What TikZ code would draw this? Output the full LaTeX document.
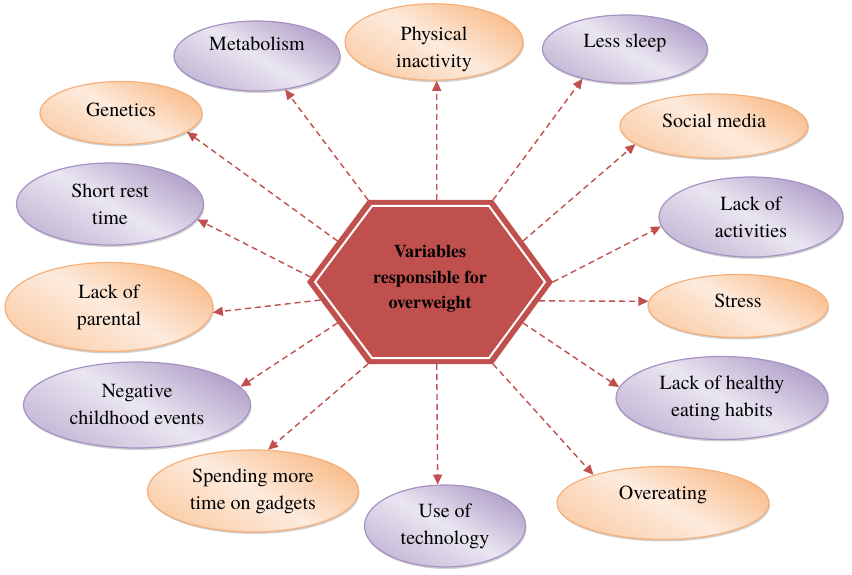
\documentclass[tikz,border=0pt]{standalone}
\usepackage{fontspec}
\setmainfont{TeX Gyre Termes}
\usetikzlibrary{arrows.meta,calc,backgrounds,shadows,shapes.geometric}
\definecolor{hexred}{HTML}{C0504D}
\definecolor{purplight}{HTML}{EAE6F1}
\definecolor{purpdark}{HTML}{B3A3CA}
\definecolor{purpedge}{HTML}{A592C3}
\definecolor{orglight}{HTML}{FDEBDD}
\definecolor{orgdark}{HTML}{F9BF8F}
\definecolor{orgedge}{HTML}{F4AF7B}
\newcommand{\textlift}[2]{\raisebox{#1}[\height][\depth]{#2}}

\begin{document}
\begin{tikzpicture}[
  x=1pt, y=-1pt,
  bubble/.style={ellipse, draw=#1edge, line width=1.2pt, inner sep=0pt, align=center,
    top color=#1dark, bottom color=#1dark!75!white, middle color=#1light, shading angle=-30,
    font=\rmfamily\fontsize{20}{27}\selectfont,
    drop shadow={shadow xshift=1pt, shadow yshift=-2pt, fill=black, opacity=0.18}},
  dims/.style 2 args={minimum width=#1pt, minimum height=#2pt},
  hubtext/.style={align=center, text=black, font=\rmfamily\fontsize{18}{25.5}\selectfont\bfseries},
  link/.style={hexred, line width=1.4pt, dash pattern=on 6pt off 4pt, -{Triangle[length=10pt,width=9pt]}},
]
  \useasboundingbox (0,0) rectangle (852,575);

  % outer ring of factors
  \node[bubble=purp, dims={166}{70}] (meta) at (257,56) {\textlift{12pt}{Metabolism}};
  \node[bubble=org, dims={178}{73}] (phys) at (434,42)
    {\textlift{-7pt}{\begin{tabular}{@{}c@{}}Physical\\inactivity\end{tabular}}};
  \node[bubble=purp, dims={165}{68}] (sleep) at (625,49) {\textlift{6pt}{Less sleep}};
  \node[bubble=org, dims={162}{63}] (gen) at (121,113) {\textlift{3pt}{Genetics}};
  \node[bubble=org, dims={188}{64}] (soc) at (714,126) {\textlift{5pt}{Social media}};
  \node[bubble=purp, dims={187}{82}] (rest) at (110,204) {Short rest\\time};
  \node[bubble=purp, dims={184}{80}] (act) at (751,217) {Lack of\\activities};
  \node[bubble=org, dims={208}{89}] (par) at (109,307) {Lack of\\parental};
  \node[bubble=org, dims={180}{63}] (stress) at (738,306) {\textlift{5pt}{Stress}};
  \node[bubble=purp, dims={227}{86}] (neg) at (137,405) {Negative\\childhood events};
  \node[bubble=purp, dims={212}{83}] (eat) at (722,398) {Lack of healthy\\eating habits};
  \node[bubble=org, dims={211}{82}] (gad) at (253,491) {Spending more\\time on gadgets};
  \node[bubble=purp, dims={161}{82}] (tech) at (445,526) {Use of\\technology};
  \node[bubble=org, dims={212}{73}] (over) at (663,503) {\textlift{8pt}{Overeating}};

  % centre
  \node[hubtext] (hub) at (430,279) {Variables\\responsible for\\overweight};
  \coordinate (hw) at (307,282);
  \coordinate (hnw) at (368,200);
  \coordinate (hne) at (493,200);
  \coordinate (he) at (553,282);
  \coordinate (hse) at (493,364);
  \coordinate (hsw) at (368,364);

  \begin{scope}[on background layer]
    \fill[hexred] (hw) -- (hnw) -- (hne) -- (he) -- (hse) -- (hsw) -- cycle;
    \draw[white, line width=2pt, line join=miter]
      (315,282) -- (372,206) -- (489,206) -- (545,282) -- (489,358) -- (372,358) -- cycle;

    \draw[link] (hnw) -- (meta.-50);
    \draw[link] ($(hnw)!0.55!(hne)$) -- (phys.-86);
    \draw[link] (hne) -- (sleep.-145);
    \draw[link] ($(hw)!0.5!(hnw)$) -- (gen.-16);
    \draw[link] ($(he)!0.5!(hne)$) -- (soc.-167);
    \draw[link] ($(hw)!0.06!(hnw)$) -- (rest.-10);
    \draw[link] (he) -- (act.-174);
    \draw[link] ($(hw)!0.22!(hsw)$) -- (par.-3);
    \draw[link] ($(he)!0.23!(hse)$) -- (stress.177);
    \draw[link] ($(hw)!0.5!(hsw)$) -- (neg.10);
    \draw[link] ($(he)!0.5!(hse)$) -- (eat.174);
    \draw[link] (hsw) -- (gad.70);
    \draw[link] ($(hsw)!0.55!(hse)$) -- (tech.100);
    \draw[link] (hse) -- (over.158);
  \end{scope}
\end{tikzpicture}
\end{document}
